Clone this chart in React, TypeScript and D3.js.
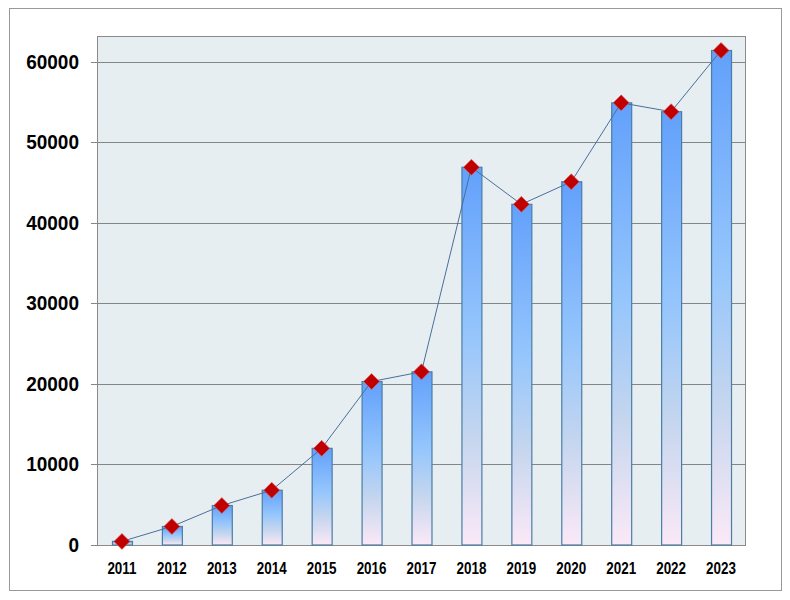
import React from "react";
import * as d3 from "d3";

const years = ["2011","2012","2013","2014","2015","2016","2017","2018","2019","2020","2021","2022","2023"];
const values = [450, 2300, 4900, 6800, 12000, 20300, 21500, 46900, 42300, 45100, 54900, 53800, 61400];
const yTicks = [0, 10000, 20000, 30000, 40000, 50000, 60000];

const W = 790, H = 600;
const plot = { left: 97, right: 746, top: 36, bottom: 545 };

export default function App() {
  const x = d3.scaleBand<string>().domain(years).range([plot.left, plot.right]).paddingInner(0.6).paddingOuter(0.3);
  const y = d3.scaleLinear().domain([0, 63200]).range([plot.bottom, plot.top]);
  const cx = (d: string) => (x(d) as number) + x.bandwidth() / 2;
  const line = d3.line<number>().x((_, i) => cx(years[i])).y((v) => y(v));
  const dSize = 8;

  return (
    <svg width={W} height={H} style={{ position: "absolute", left: 0, top: 0, background: "#fff" }}>
      <defs>
        <linearGradient id="barGrad" x1="0" y1="0" x2="0" y2="1">
          <stop offset="0" stopColor="#62a0fb" />
          <stop offset="0.45" stopColor="#96c6fc" />
          <stop offset="0.72" stopColor="#c6d6ee" />
          <stop offset="1" stopColor="#fbe9f7" />
        </linearGradient>
      </defs>
      <rect x={9.5} y={8.5} width={772} height={582} fill="#fff" stroke="#999" strokeWidth={1} />
      <rect x={plot.left} y={plot.top} width={plot.right - plot.left} height={plot.bottom - plot.top} fill="#e7eef2" />
      {yTicks.map((t) => (
        <g key={t}>
          <line x1={91} x2={plot.right} y1={Math.round(y(t)) + 0.5} y2={Math.round(y(t)) + 0.5} stroke="#858585" strokeWidth={1} />
          <text x={79} y={y(t) + 7} textAnchor="end" fontFamily="Liberation Sans, Arial, sans-serif" fontWeight="bold" fontSize={20} fill="#000"
            transform={`translate(${79 * 0.05},0) scale(0.95,1)`}>{t}</text>
        </g>
      ))}
      <rect x={plot.left + 0.5} y={plot.top + 0.5} width={plot.right - plot.left - 1} height={plot.bottom - plot.top} fill="none" stroke="#8a8a8a" strokeWidth={1} />
      {values.map((v, i) => (
        <rect key={years[i]} x={(x(years[i]) as number) + 0.5} y={y(v)} width={x.bandwidth()} height={plot.bottom - y(v)}
          fill="url(#barGrad)" stroke="#4a7ea6" strokeWidth={1.2} />
      ))}
      <path d={line(values) || ""} fill="none" stroke="#4a6e9c" strokeWidth={1} />
      {values.map((v, i) => {
        const px = cx(years[i]), py = y(v);
        return (
          <path key={"m" + i} d={`M${px},${py - dSize}L${px + dSize},${py}L${px},${py + dSize}L${px - dSize},${py}Z`}
            fill="#c00000" stroke="#d66" strokeWidth={0.6} />
        );
      })}
      {years.map((yr) => (
        <text key={yr} x={0} y={0} textAnchor="middle" fontFamily="Liberation Sans, Arial, sans-serif" fontWeight="bold" fontSize={17} fill="#000"
          transform={`translate(${cx(yr)},574) scale(0.79,1)`}>{yr}</text>
      ))}
    </svg>
  );
}
